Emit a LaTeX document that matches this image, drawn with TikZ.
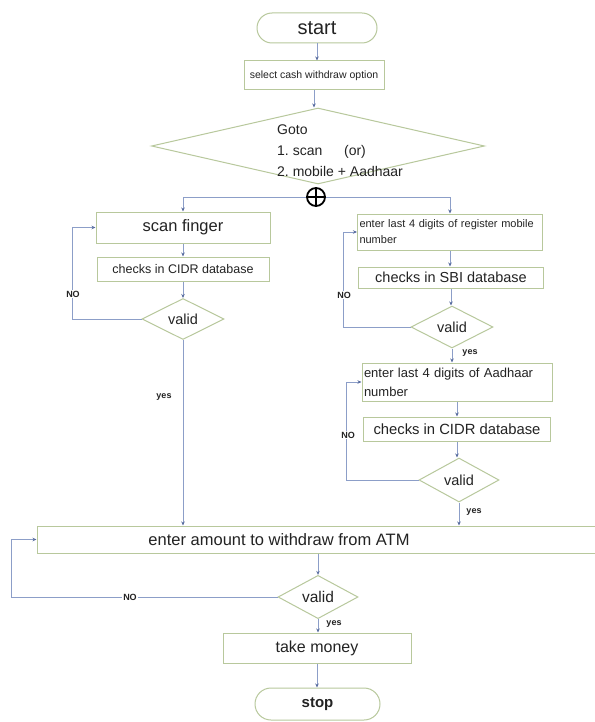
\documentclass[tikz,border=0pt]{standalone}
\usepackage{fontspec}
\setmainfont{Liberation Sans}
\usetikzlibrary{shapes.geometric,arrows.meta}
\definecolor{boxc}{RGB}{184,200,156}
\definecolor{linec}{RGB}{140,158,200}
\definecolor{tipc}{RGB}{90,110,160}
\definecolor{txtc}{RGB}{35,35,35}
\newcommand\fsz[2]{\fontsize{#1}{#2}\selectfont}
\tikzset{
  boxnode/.style={draw=boxc, line width=1pt, rectangle, inner sep=1pt, text=txtc},
  term/.style={boxnode, rounded corners=15pt},
  dia/.style={draw=boxc, line width=1pt, diamond, inner sep=0pt, text=txtc, font=\fsz{14.5}{17}},
  arr/.style={draw=linec, line width=0.8pt, -{Stealth[length=4pt,width=3.5pt,color=tipc]}},
  lab/.style={font=\bfseries\fsz{9}{10}, text=txtc, inner sep=1pt},
  nolab/.style={lab, fill=white},
}
\frenchspacing
\begin{document}
\begin{tikzpicture}[x=1pt,y=-1pt]
\useasboundingbox[fill=white] (0,0) rectangle (594,722);

% top spine
\node[term, minimum width=120pt, minimum height=30pt, font=\fsz{20}{24}] (start) at (317,28) {start};
\node[boxnode, minimum width=140pt, minimum height=29pt, font=\fsz{10.5}{12}] (select) at (314,75.5) {select cash withdraw option};
\node[dia, minimum width=333pt, minimum height=76pt] (goto) at (318,146) {};
\node[anchor=west, align=left, text=txtc, font=\fsz{14}{21}, inner sep=0pt] (gototxt) at (277,151) {Goto\\1. scan\quad\ \ (or)\\2. mobile + Aadhaar};
\node[circle, draw=black, line width=1.8pt, minimum size=18pt, inner sep=0pt] (plusc) at (316,197) {};
\draw[black, line width=1.8pt] (plusc.north) -- (plusc.south) (plusc.west) -- (plusc.east);

\draw[arr] (start.south) -- (start.south |- select.north);
\draw[arr] (select.south) -- (select.south |- goto.north);

% left branch
\node[boxnode, minimum width=174pt, minimum height=31pt, font=\fsz{16.5}{19}] (scan) at (183,227.5) {scan finger};
\node[boxnode, minimum width=172pt, minimum height=24pt, font=\fsz{12.5}{14}] (chk1) at (183,269) {checks in CIDR database};
\node[dia, minimum width=82pt, minimum height=41pt] (val1) at (183,319) {valid};

\draw[arr] (plusc.west) -| (scan.north);
\draw[arr] (scan.south) -- (chk1.north);
\draw[arr] (chk1.south) -- (val1.north);
\draw[arr] (val1.west) -- ++(-69,0) |- (scan.west);
\node[nolab] (no1) at (73,294) {NO};

% right branch
\node[boxnode, minimum width=185pt, minimum height=36pt, text width=181pt, align=left, font=\fsz{11}{16}] (mob) at (450,232) {enter last 4 digits of register mobile\\number};
\node[boxnode, minimum width=185pt, minimum height=21pt, font=\fsz{14.5}{16}] (sbi) at (451,277.5) {checks in SBI database};
\node[dia, minimum width=82pt, minimum height=42pt] (val2) at (452,327) {valid};

\draw[arr] (plusc.east) -| (mob.north);
\draw[arr] (mob.south) -- (mob.south |- sbi.north);
\draw[arr] (sbi.south) -- (sbi.south |- val2.north);
\draw[arr] (val2.west) -- ++(-67,0) |- (mob.west);
\node[nolab] (no2) at (344,295) {NO};

\node[boxnode, minimum width=190pt, minimum height=38pt, text width=186pt, align=left, font=\fsz{13}{19}] (aad) at (457,382) {enter last 4 digits of Aadhaar\\number};
\node[boxnode, minimum width=187pt, minimum height=24pt, font=\fsz{14.8}{16}] (chk2) at (457,429) {checks in CIDR database};
\node[dia, minimum width=80pt, minimum height=44pt] (val3) at (459,480) {valid};

\draw[arr] (val2.south) -- (val2.south |- aad.north);
\node[lab] (yes2) at (470,353) {yes};
\draw[arr] (aad.south) -- (chk2.north);
\draw[arr] (chk2.south) -- (chk2.south |- val3.north);
\draw[arr] (val3.west) -- ++(-72,0) |- (aad.west);
\node[nolab] (no3) at (348,435) {NO};

% merge
\node[boxnode, minimum width=563pt, minimum height=27pt] (amount) at (318.5,539.5) {};
\node[text=txtc, font=\fsz{16.5}{19}, inner sep=0pt] (amounttxt) at (279,540) {enter amount to withdraw from ATM};

\draw[arr] (val1.south) -- (val1.south |- amount.north);
\node[lab] (yes1) at (164,397) {yes};
\draw[arr] (val3.south) -- (val3.south |- amount.north);
\node[lab] (yes3) at (474,512) {yes};

% bottom
\node[dia, minimum width=80pt, minimum height=42pt, font=\fsz{15.5}{17}] (val4) at (318,597) {valid};
\node[boxnode, minimum width=188pt, minimum height=30pt, font=\fsz{16}{19}] (take) at (317,648) {take money};
\node[term, rounded corners=16pt, minimum width=125pt, minimum height=32pt, font=\bfseries\fsz{15}{18}] (stop) at (317.5,704) {stop};

\draw[arr] (amount.south -| val4.north) -- (val4.north);
\draw[arr] (val4.west) -- ++(-266,0) |- (amount.west);
\node[nolab] (no4) at (130,597) {NO};
\draw[arr] (val4.south) -- (val4.south |- take.north);
\node[lab] (yes4) at (334,624) {yes};
\draw[arr] (take.south) -- (take.south |- stop.north);
\end{tikzpicture}
\end{document}
